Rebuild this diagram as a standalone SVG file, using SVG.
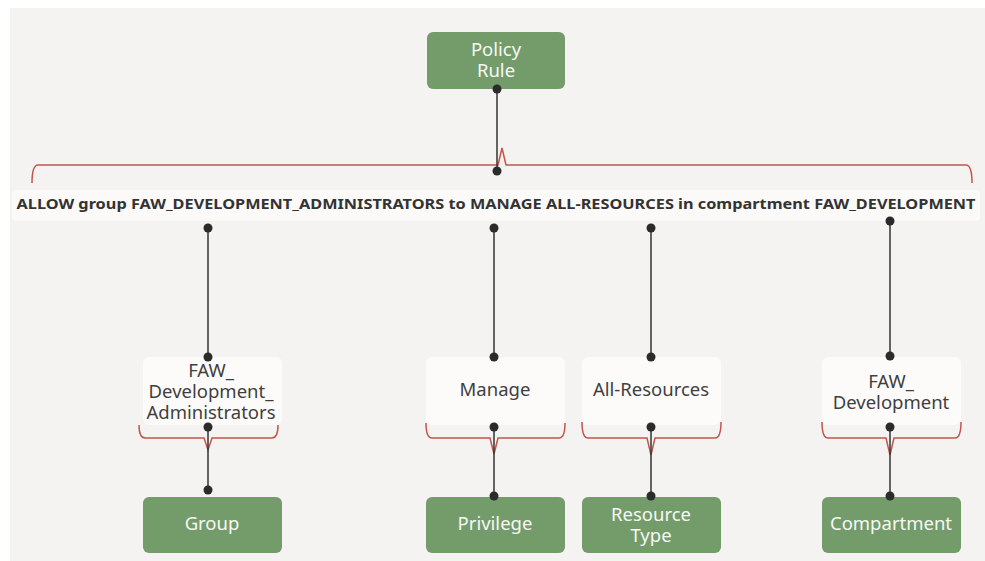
<svg xmlns="http://www.w3.org/2000/svg" width="985" height="561" viewBox="0 0 985 561">
<style>
.green{fill:#749c6b}
.white{fill:#fcfbfa}
.gt{font-family:"Noto Sans",sans-serif;font-size:18.5px;fill:#f6f8f4;text-anchor:middle}
.wt{font-family:"Noto Sans",sans-serif;font-size:18.5px;fill:#3f3f3f;text-anchor:middle}
.line{stroke:#333;stroke-width:1.5;fill:none}
.brace{stroke:#c0574a;stroke-width:1.5;fill:none}
.dot{fill:#2b2b2b}
</style>
<rect x="10" y="8" width="975" height="553" fill="#f4f3f1"/>
<g id="connectors">
<path class="brace" d="M32,183 Q32,165 38,165 L498,165 L502,148 L506,165 L966,165 Q972,165 972,183"/>
<path class="brace" d="M139,425 Q139,438 145,438 L204,438 L208,450 L212,438 L272,438 Q278,438 278,425"/>
<path class="brace" d="M426,423 Q426,438 432,438 L490,438 L494,454 L498,438 L559,438 Q565,438 565,423"/>
<path class="brace" d="M582,422 Q582,438 588,438 L647,438 L651,455 L655,438 L715,438 Q721,438 721,422"/>
<path class="brace" d="M822,422 Q822,438 828,438 L886,438 L890,455 L894,438 L955,438 Q961,438 961,422"/>
<line class="line" x1="497" y1="89" x2="497" y2="171"/>
<line class="line" x1="208" y1="228" x2="208" y2="357"/>
<line class="line" x1="494" y1="228" x2="494" y2="357"/>
<line class="line" x1="651" y1="228" x2="651" y2="357"/>
<line class="line" x1="890" y1="221" x2="890" y2="356"/>
<line class="line" x1="208" y1="427" x2="208" y2="490"/>
<line class="line" x1="494" y1="427" x2="494" y2="496"/>
<line class="line" x1="651" y1="427" x2="651" y2="496"/>
<line class="line" x1="890" y1="427" x2="890" y2="496"/>
</g>
<g id="policy-rule">
<rect class="green" x="427" y="32" width="138" height="57" rx="6"/>
<text class="gt" x="496" y="56">Policy</text>
<text class="gt" x="496" y="77">Rule</text>
</g>
<g id="statement">
<rect x="12" y="190" width="968" height="31" rx="4" fill="#fbfaf8"/>
<text x="496" y="209" font-family="Noto Sans,sans-serif" font-weight="bold" font-size="14" fill="#333" text-anchor="middle" textLength="959" lengthAdjust="spacingAndGlyphs">ALLOW group FAW_DEVELOPMENT_ADMINISTRATORS to MANAGE ALL-RESOURCES in compartment FAW_DEVELOPMENT</text>
</g>
<g id="faw-dev-admins">
<rect class="white" x="143" y="357" width="139" height="68" rx="6"/>
<text class="wt" x="211" y="377">FAW_</text>
<text class="wt" x="211" y="398">Development_</text>
<text class="wt" x="211" y="419">Administrators</text>
</g>
<g id="manage">
<rect class="white" x="426" y="357" width="139" height="68" rx="6"/>
<text class="wt" x="495" y="396">Manage</text>
</g>
<g id="all-resources">
<rect class="white" x="582" y="357" width="139" height="68" rx="6"/>
<text class="wt" x="651" y="396">All-Resources</text>
</g>
<g id="faw-development">
<rect class="white" x="822" y="357" width="139" height="68" rx="6"/>
<text class="wt" x="891" y="388">FAW_</text>
<text class="wt" x="891" y="409">Development</text>
</g>
<g id="group">
<rect class="green" x="143" y="497" width="139" height="56" rx="6"/>
<text class="gt" x="212" y="530">Group</text>
</g>
<g id="privilege">
<rect class="green" x="426" y="497" width="139" height="56" rx="6"/>
<text class="gt" x="495" y="530">Privilege</text>
</g>
<g id="resource-type">
<rect class="green" x="582" y="497" width="139" height="56" rx="6"/>
<text class="gt" x="651" y="521">Resource</text>
<text class="gt" x="651" y="542">Type</text>
</g>
<g id="compartment">
<rect class="green" x="822" y="497" width="139" height="56" rx="6"/>
<text class="gt" x="891" y="530">Compartment</text>
</g>
<g id="dots">
<circle class="dot" cx="497" cy="89" r="4.5"/>
<circle class="dot" cx="497" cy="171" r="4.5"/>
<circle class="dot" cx="208" cy="228" r="4.5"/>
<circle class="dot" cx="494" cy="228" r="4.5"/>
<circle class="dot" cx="651" cy="228" r="4.5"/>
<circle class="dot" cx="890" cy="221" r="4.5"/>
<circle class="dot" cx="208" cy="357" r="4.5"/>
<circle class="dot" cx="494" cy="357" r="4.5"/>
<circle class="dot" cx="651" cy="357" r="4.5"/>
<circle class="dot" cx="890" cy="356" r="4.5"/>
<circle class="dot" cx="208" cy="427" r="4.5"/>
<circle class="dot" cx="494" cy="427" r="4.5"/>
<circle class="dot" cx="651" cy="427" r="4.5"/>
<circle class="dot" cx="890" cy="427" r="4.5"/>
<circle class="dot" cx="208" cy="490" r="4.5"/>
<circle class="dot" cx="494" cy="496" r="4.5"/>
<circle class="dot" cx="651" cy="496" r="4.5"/>
<circle class="dot" cx="890" cy="496" r="4.5"/>
</g>
</svg>
